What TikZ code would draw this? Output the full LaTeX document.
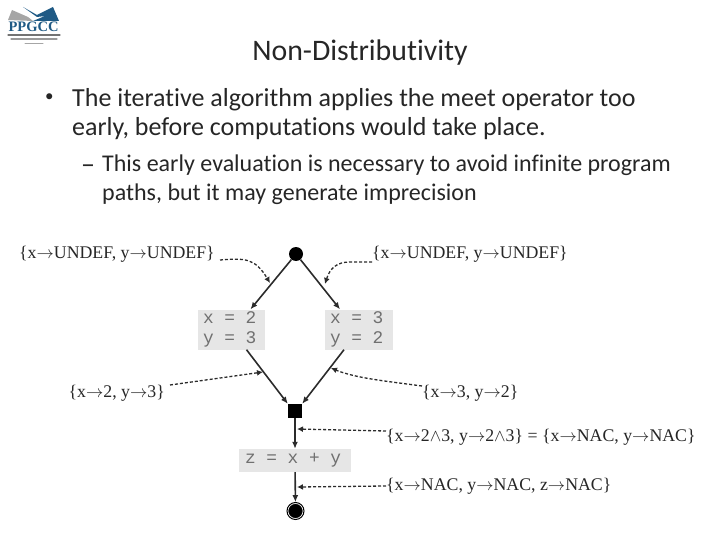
\documentclass[tikz,border=0pt]{standalone}
\usepackage{fontspec}
\setmainfont{Carlito}[Ligatures=NoCommon]
\newfontfamily\labelfont{Liberation Serif}
\newfontfamily\codefont{Liberation Mono}
\usepackage{tikz}
\usetikzlibrary{positioning,arrows.meta,calc}
\definecolor{PPGCCblue}{HTML}{1F5A85}
\definecolor{PPGCCgray}{HTML}{A6A6A6}
\definecolor{codebox}{HTML}{E6E6E6}
\definecolor{codetext}{HTML}{707070}
\definecolor{flowline}{HTML}{2B2B2B}
\newcommand{\fto}{\ensuremath{\rightarrow}}
\tikzset{
  slidetext/.style={anchor=west, inner sep=0pt, font=\fontsize{26}{30}\selectfont, text=black!85},
  subtext/.style={anchor=west, inner sep=0pt, font=\fontsize{24}{28}\selectfont, text=black!85},
  factlabel/.style={inner sep=0pt, font=\labelfont\fontsize{17.8}{20}\selectfont, text=black!85},
  codenode/.style={fill=codebox, inner sep=0pt, align=flush left, font=\codefont\fontsize{17.8}{19.5}\selectfont, text=codetext},
  flowarr/.style={-{Latex[length=7pt,width=6pt]}, line width=1.6pt, draw=flowline},
  factarr/.style={-{Latex[length=6pt,width=6pt]}, densely dashed, line width=1.3pt, draw=flowline}
}
\begin{document}
\begin{tikzpicture}[x=1pt,y=-1pt]
\useasboundingbox (0,0) rectangle (720,540);
% logo
\fill[PPGCCgray] (8,20) -- (12,10) -- (28,17) -- (33,21) -- cycle;
\fill[PPGCCblue] (23,7) -- (37,15) -- (53,7) -- (59,21) -- (33,21) -- (45,16) -- (37,17) -- cycle;
\node[inner sep=0pt, text=PPGCCblue, font=\labelfont\bfseries\fontsize{14.5}{15}\selectfont] (logo) at (33.5,27) {PPGCC};
\draw[black!55, line width=1.2pt, line cap=round] (8,35) -- (60,35);
\draw[black!40, line width=1.2pt, line cap=round] (11,39) -- (57,39);
\draw[black!35, line width=1pt, line cap=round] (25,44) -- (43,44);
% slide text
\node[inner sep=0pt, font=\fontsize{29.8}{32}\selectfont, text=black!85] (title) at (360,52.5) {Non-Distributivity};
\node[slidetext, font=\fontsize{17}{20}\selectfont] (bulletA) at (45,98) {•};
\node[slidetext] (lineA) at (72,99.5) {The iterative algorithm applies the meet operator too};
\node[slidetext, below=29pt of lineA.west, anchor=west] (lineB) {early, before computations would take place.};
\node[subtext, font=\fontsize{28}{30}\selectfont] (bulletB) at (81,169) {–};
\node[subtext] (lineC) at (102,165.5) {This early evaluation is necessary to avoid infinite program};
\node[subtext, below=29pt of lineC.west, anchor=west] (lineD) {paths, but it may generate imprecision};
% flow graph
\node[circle, fill=black, minimum size=14pt, inner sep=0pt] (entry) at (296,254) {};
\node[codenode, minimum width=67pt, minimum height=40pt, text width=57pt] (assignA) at (231.5,329.5) {x = 2\\y = 3};
\node[codenode, minimum width=68pt, minimum height=40pt, text width=58pt] (assignB) at (359,329.5) {x = 3\\y = 2};
\node[fill=black, minimum size=14pt, inner sep=0pt] (meet) at (295,411) {};
\node[codenode, minimum width=112pt, minimum height=23pt, text width=100pt] (assignZ) at (295,460.5) {z = x + y};
\node[circle, fill=black, draw=white, double=black, double distance=1pt, line width=0.8pt, minimum size=17pt, inner sep=0pt] (exit) at (295.5,511) {};
\draw[flowarr] (entry) -- ([xshift=19pt]assignA.north);
\draw[flowarr] (entry) -- ([xshift=-19pt]assignB.north);
\draw[flowarr] ([xshift=15pt]assignA.south) -- (meet.north west);
\draw[flowarr] ([xshift=-15pt]assignB.south) -- (meet.north east);
\draw[flowarr] (meet) -- (assignZ);
\draw[flowarr] (assignZ) -- (exit);
% facts
\node[factlabel, anchor=east] (factA) at (215,254) {\{x\fto UNDEF, y\fto UNDEF\}};
\node[factlabel, anchor=west] (factB) at (372,254) {\{x\fto UNDEF, y\fto UNDEF\}};
\node[factlabel, anchor=east] (factC) at (165,393) {\{x\fto 2, y\fto 3\}};
\node[factlabel, anchor=west] (factD) at (422,393) {\{x\fto 3, y\fto 2\}};
\node[factlabel, anchor=west] (factE) at (386,437) {\{x\fto 2$\wedge$3, y\fto 2$\wedge$3\} = \{x\fto NAC, y\fto NAC\}};
\node[factlabel, anchor=west] (factF) at (386,486) {\{x\fto NAC, y\fto NAC, z\fto NAC\}};
\coordinate (hitA) at (270,283);
\coordinate (hitB) at (325,284);
\coordinate (hitC) at (263,372);
\coordinate (hitD) at (331,368);
\coordinate (hitE) at (297,429);
\coordinate (hitF) at (297,487);
\draw[factarr] ([xshift=5pt,yshift=-6pt]factA.east) .. controls (245,258) and (255,258) .. (hitA);
\draw[factarr] ([yshift=-8pt]factB.west) -- (350,262) .. controls (337,262) and (330,268) .. (hitB);
\draw[factarr] ([xshift=5pt,yshift=8pt]factC.east) -- (hitC);
\draw[factarr] ([yshift=7pt]factD.west) .. controls (385,381) and (355,378) .. (hitD);
\draw[factarr] ([yshift=6pt]factE.west) -- (hitE);
\draw[factarr] (factF.west) -- (hitF);
\end{tikzpicture}
\end{document}
